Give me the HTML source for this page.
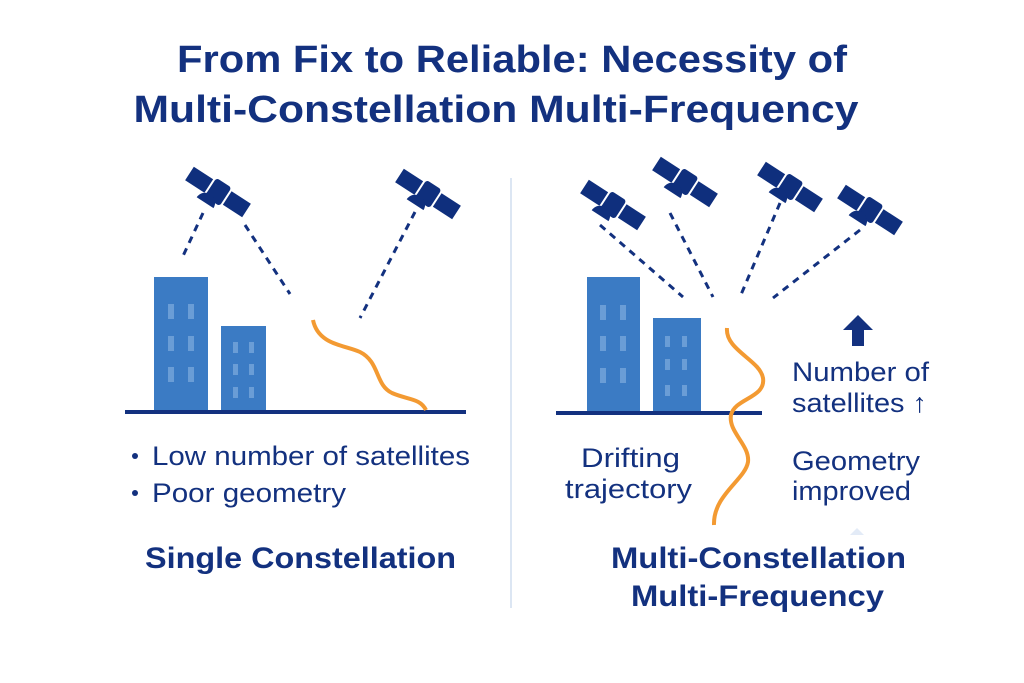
<!DOCTYPE html>
<html><head><meta charset="utf-8"><style>
html,body{margin:0;padding:0;background:#fff}
svg{display:block}
text{font-family:"Liberation Sans",sans-serif;fill:#13317f}
</style></head><body>
<svg width="1024" height="683" viewBox="0 0 1024 683" xmlns="http://www.w3.org/2000/svg">
<defs>
<g id="sat">
  <rect x="-34" y="-8" width="23" height="16" fill="#0f2f7d"/>
  <rect x="11" y="-8" width="23" height="16" fill="#0f2f7d"/>
  <rect x="-9" y="-11" width="18" height="22" rx="3" fill="#0f2f7d"/>
  <path d="M-13,12 A10,10 0 0 1 7,12 Z" fill="#0f2f7d" transform="translate(-2,4)"/>
</g>
</defs>
<text x="512" y="72" font-size="38" font-weight="bold" text-anchor="middle" textLength="670" lengthAdjust="spacingAndGlyphs">From Fix to Reliable: Necessity of</text>
<text x="496" y="122" font-size="38" font-weight="bold" text-anchor="middle" textLength="725" lengthAdjust="spacingAndGlyphs">Multi-Constellation Multi-Frequency</text>

<line x1="511" y1="178" x2="511" y2="608" stroke="#dce6f3" stroke-width="2"/>

<use href="#sat" transform="translate(218,192) rotate(33)"/>
<use href="#sat" transform="translate(428,194) rotate(33)"/>
<g stroke="#13317f" stroke-width="3" stroke-dasharray="7,6" fill="none">
<line x1="203" y1="213" x2="183" y2="256"/>
<line x1="245" y1="225" x2="290" y2="294"/>
<line x1="415" y1="212" x2="360" y2="318"/>
<line x1="600" y1="225" x2="683" y2="297"/>
<line x1="670" y1="213" x2="713" y2="297"/>
<line x1="780" y1="203" x2="740" y2="297"/>
<line x1="860" y1="230" x2="773" y2="298"/>
</g>
<rect x="154" y="277" width="54" height="135" fill="#3b7bc4"/>
<rect x="221" y="326" width="45" height="86" fill="#3b7bc4"/>
<g fill="#6a9dd6">
<rect x="168" y="304" width="6" height="15"/><rect x="188" y="304" width="6" height="15"/>
<rect x="168" y="336" width="6" height="15"/><rect x="188" y="336" width="6" height="15"/>
<rect x="168" y="367" width="6" height="15"/><rect x="188" y="367" width="6" height="15"/>
<rect x="233" y="342" width="5" height="11"/><rect x="249" y="342" width="5" height="11"/>
<rect x="233" y="364" width="5" height="11"/><rect x="249" y="364" width="5" height="11"/>
<rect x="233" y="387" width="5" height="11"/><rect x="249" y="387" width="5" height="11"/>
</g>
<line x1="125" y1="412" x2="466" y2="412" stroke="#13317f" stroke-width="4"/>
<path d="M313,320 C318,345 345,345 360,352 C380,362 375,385 392,393 C408,400 420,398 426,410" stroke="#f39a32" stroke-width="4" fill="none"/>

<circle cx="135" cy="456" r="3" fill="#13317f"/>
<circle cx="135" cy="493" r="3" fill="#13317f"/>
<text x="152" y="465" font-size="27" textLength="318" lengthAdjust="spacingAndGlyphs">Low number of satellites</text>
<text x="152" y="502" font-size="27" textLength="194" lengthAdjust="spacingAndGlyphs">Poor geometry</text>
<text x="145" y="568" font-size="30" font-weight="bold" textLength="311" lengthAdjust="spacingAndGlyphs">Single Constellation</text>

<use href="#sat" transform="translate(613,205) rotate(33)"/>
<use href="#sat" transform="translate(685,182) rotate(33)"/>
<use href="#sat" transform="translate(790,187) rotate(33)"/>
<use href="#sat" transform="translate(870,210) rotate(33)"/>
<rect x="587" y="277" width="53" height="135" fill="#3b7bc4"/>
<rect x="653" y="318" width="48" height="94" fill="#3b7bc4"/>
<g fill="#6a9dd6">
<rect x="600" y="305" width="6" height="15"/><rect x="620" y="305" width="6" height="15"/>
<rect x="600" y="336" width="6" height="15"/><rect x="620" y="336" width="6" height="15"/>
<rect x="600" y="368" width="6" height="15"/><rect x="620" y="368" width="6" height="15"/>
<rect x="665" y="336" width="5" height="11"/><rect x="682" y="336" width="5" height="11"/>
<rect x="665" y="359" width="5" height="11"/><rect x="682" y="359" width="5" height="11"/>
<rect x="665" y="385" width="5" height="11"/><rect x="682" y="385" width="5" height="11"/>
</g>
<line x1="556" y1="413" x2="762" y2="413" stroke="#13317f" stroke-width="4"/>
<path d="M727,328 C725,350 760,360 763,378 C766,398 735,398 731,415 C728,432 750,445 748,462 C745,480 713,495 714,525" stroke="#f39a32" stroke-width="4" fill="none"/>
<path d="M843,330 L858,315 L873,330 L864,330 L864,346 L852,346 L852,330 Z" fill="#13317f"/>
<text x="792" y="381" font-size="27" textLength="137" lengthAdjust="spacingAndGlyphs">Number of</text>
<text x="792" y="412" font-size="27" textLength="135" lengthAdjust="spacingAndGlyphs">satellites ↑</text>
<text x="581" y="467" font-size="27" textLength="99" lengthAdjust="spacingAndGlyphs">Drifting</text>
<text x="565" y="498" font-size="27" textLength="127" lengthAdjust="spacingAndGlyphs">trajectory</text>
<text x="792" y="470" font-size="27" textLength="128" lengthAdjust="spacingAndGlyphs">Geometry</text>
<text x="792" y="500" font-size="27" textLength="119" lengthAdjust="spacingAndGlyphs">improved</text>
<path d="M850,535 L857,528 L864,535 Z" fill="#e3ebf7"/>
<text x="611" y="568" font-size="30" font-weight="bold" textLength="295" lengthAdjust="spacingAndGlyphs">Multi-Constellation</text>
<text x="631" y="606" font-size="30" font-weight="bold" textLength="253" lengthAdjust="spacingAndGlyphs">Multi-Frequency</text>
</svg>
</body></html>
